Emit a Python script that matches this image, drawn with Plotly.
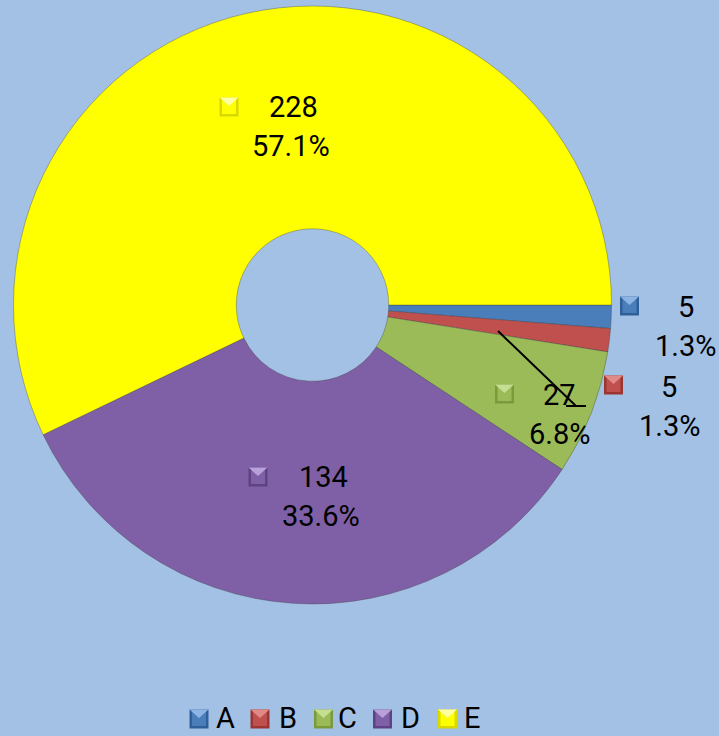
import plotly.graph_objects as go

categories = ["A", "B", "C", "D", "E"]
values = [5, 5, 27, 134, 228]
colors = ["#4A7EBB", "#C0504D", "#9BBB59", "#7F60A6", "#FFFF00"]
dark_colors = ["#2F5F98", "#9A3532", "#7A9A3C", "#5E4383", "#D9D900"]
light_colors = ["#8DB4E2", "#E08A87", "#C6DE92", "#B8A0DA", "#FFFFA6"]

W, H = 719, 736
BG = "#A3C1E5"

# data-label layout (pixel centres of value line, percent line and key square)
label_pos = {
    "A": dict(val=(686, 307), pct=(685, 346), sq=(629.5, 306)),
    "B": dict(val=(669, 387), pct=(669, 426), sq=(613.5, 385)),
    "C": dict(val=(559, 395), pct=(559, 434), sq=(504.5, 394)),
    "D": dict(val=(323, 477), pct=(321, 516), sq=(258, 477)),
    "E": dict(val=(293, 107), pct=(291, 146), sq=(229, 107)),
}
# legend layout (pixel centres of key square and text)
legend_pos = {
    "A": dict(sq=(199, 719), txt=(225.5, 718)),
    "B": dict(sq=(260, 719), txt=(287.5, 718)),
    "C": dict(sq=(323.5, 719), txt=(347.5, 718)),
    "D": dict(sq=(382.5, 719), txt=(410.5, 718)),
    "E": dict(sq=(447.5, 719), txt=(471.5, 718)),
}

cx, cy, r = 312.5, 305, 299
fig = go.Figure(go.Pie(
    labels=categories, values=values, hole=0.255,
    sort=False, direction="clockwise", rotation=90,
    marker=dict(colors=colors, line=dict(color="rgba(60,60,60,0.35)", width=1)),
    textinfo="none", hoverinfo="label+value+percent", showlegend=False,
    domain=dict(x=[(cx - r) / W, (cx + r) / W], y=[(H - cy - r) / H, (H - cy + r) / H]),
))


def px(x, y):
    return x / W, 1 - y / H


def key_square(x, y, col, dark, light, s=9.5):
    out = []
    x0, y0 = px(x - s, y + s)
    x1, y1 = px(x + s, y - s)
    out.append(dict(type="rect", xref="paper", yref="paper", x0=x0, x1=x1, y0=y0, y1=y1,
                    fillcolor=dark, line=dict(width=0)))
    i = 2.5
    a0, b0 = px(x - s + i, y + s - i)
    a1, b1 = px(x + s - i, y - s + i)
    out.append(dict(type="rect", xref="paper", yref="paper", x0=a0, x1=a1, y0=b0, y1=b1,
                    fillcolor=col, line=dict(width=0)))
    t0, t1, t2 = px(x - s, y - s), px(x + s, y - s), px(x, y - 1)
    out.append(dict(type="path", xref="paper", yref="paper",
                    path=f"M {t0[0]} {t0[1]} L {t1[0]} {t1[1]} L {t2[0]} {t2[1]} Z",
                    fillcolor=light, line=dict(width=0)))
    return out


total = sum(values)
font = dict(family="Roboto", size=29, color="black")
ann = []
shapes = []
for cat, v, col, dk, lt in zip(categories, values, colors, dark_colors, light_colors):
    p = label_pos[cat]
    pct = f"{v / total * 100:.1f}%"
    for key, txt in (("val", str(v)), ("pct", pct)):
        x, y = px(*p[key])
        ann.append(dict(x=x, y=y, xref="paper", yref="paper", text=txt, showarrow=False,
                        font=font, xanchor="center", yanchor="middle"))
    shapes.extend(key_square(*p["sq"], col, dk, lt))
    lp = legend_pos[cat]
    shapes.extend(key_square(*lp["sq"], col, dk, lt))
    x, y = px(*lp["txt"])
    ann.append(dict(x=x, y=y, xref="paper", yref="paper", text=cat, showarrow=False,
                    font=font, xanchor="center", yanchor="middle"))

# leader line
p0, p1, p2, p3 = px(498, 331), px(576, 406), px(566, 406), px(586, 406)
shapes.append(dict(type="path", xref="paper", yref="paper",
                   path=f"M {p0[0]} {p0[1]} L {p1[0]} {p1[1]} M {p2[0]} {p2[1]} L {p3[0]} {p3[1]}",
                   line=dict(color="black", width=2)))

fig.update_layout(
    width=W, height=H, margin=dict(l=0, r=0, t=0, b=0),
    paper_bgcolor=BG, plot_bgcolor=BG,
    annotations=ann, shapes=shapes, showlegend=False,
)
fig.write_html("out.html", config={"displayModeBar": False},
               post_script="document.body.style.margin='0px';")
